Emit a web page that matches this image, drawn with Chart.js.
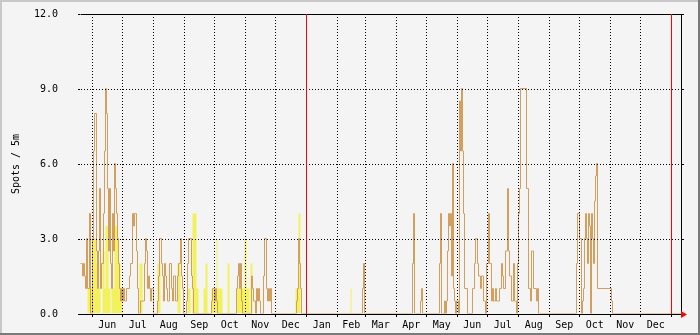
<!DOCTYPE html>
<html><head><meta charset="utf-8">
<style>html,body{margin:0;padding:0;background:#f4f4f4;}canvas{display:block;}</style>
<script src="https://cdn.jsdelivr.net/npm/chart.js@4.4.1/dist/chart.umd.min.js"></script>
</head><body>
<canvas id="c" width="700" height="335" style="width:700px;height:335px"></canvas>
<script>
// x values are days counted from 21 May of the first year
const monthStarts = [11,41,72,103,133,164,194,225,256,284,315,345,376,406,437,468,498,529,559,590];
const monthLabels = ['Jun','Jul','Aug','Sep','Oct','Nov','Dec','Jan','Feb','Mar','Apr','May','Jun','Jul','Aug','Sep','Oct','Nov','Dec'];
const yTicks = [0,3,6,9,12];
const redRuleDays = [225,590];
const xMin = -1.3, xMax = 600.7;

// [day, value] : value holds from that day until the next entry
const orangeSteps = [[0,2],[1,1.5],[2,2],[3,1.5],[4,1],[5,3],[6,1],[8,4],[9,0],[11,3],[12,6.5],[13,8],[15,2.5],[16,1],[17,2.5],[18,5],[19,1],[20,2],[22,4],[23,6.5],[24,9],[25,8],[26,5],[27,2.5],[28,5],[29,2],[30,1],[31,4],[32,2.5],[33,6],[34,5],[35,4],[36,3],[37,2],[38,1],[39,0.5],[40,1],[41,0.5],[42,1],[43,0.5],[45,1],[48,1.5],[49,2],[51,4],[52,3.5],[53,4],[55,2.5],[56,1],[57,0],[59,0.5],[63,2],[64,3],[65,2.5],[66,1],[67,1.5],[68,1],[69,0.5],[70,1],[72,0],
[76,0.5],[77,1.5],[78,3],[80,2],[81,1.5],[82,0.5],[83,2],[84,1.5],[85,1],[86,0.5],[88,2],[90,1],[91,0.5],[92,1.5],[94,0.5],[96,1.5],[97,2],[99,3],[100,1.5],[101,1],[102,0],[105,0.5],[106,2],[107,3],[110,1.5],[111,1],[112,0],
[130,0.5],[131,1],[133,0.5],[134,1],[135,0.5],[136,0],[155,1],[156,1.5],[157,2],[158,1],[159,2],[160,0.5],[161,0],[170,1.5],[171,1],[172,0.5],[174,0],[175,1],[176,0.5],[177,1],[178,0.5],[179,0],[182,1.5],[183,3],[185,1],[186,0.5],[187,1],[188,0.5],[189,1],[190,0],
[215,0.5],[216,1],[217,3],[218,2],[219,1],[220,0],[281,1],[282,2],[283,0],[331,2],[332,4],[333,0],[339,0.5],[340,1],[341,0],[358,2],[359,4],[360,0],[363,0.5],[364,0],[365,0.5],[366,2.5],[367,4],[368,3.5],[369,4],[370,1.5],[371,6],[372,1],[373,0.5],[374,0],[375,0.5],[377,0],[378,8.5],[379,6.5],[380,9],[381,6.5],[382,4],[383,1],[386,0],
[391,1],[393,2],[394,3],[396,2],[397,1.5],[399,1],[400,1.5],[402,0.5],[404,0],[405,2],[407,4],[408,2],[410,0.5],[411,1],[412,0.5],[414,1],[415,0.5],[418,1],[420,2],[421,1.5],[422,1],[424,2.5],[426,5],[427,2.5],[428,1.5],[430,0.5],[432,2],[433,0.5],[435,0],[436,2],[437,4],[438,5],[439,9],[445,5],[447,1],[449,0.5],[450,2.5],[452,1],[455,0.5],[456,1],[457,0],
[495,2],[496,4],[498,3],[500,0],[501,0.5],[502,1],[503,3],[504,4],[505,3],[506,2],[507,4],[508,3.5],[509,0],[510,4],[511,3],[512,2],[513,4.5],[514,5.5],[515,6],[516,1],[530,0.5],[531,0]];

const yellowSteps = [[0,0],[6,1],[11,3],[15,2],[17,1],[19,0],[21,2.5],[23,1],[24,3.5],[27,1],[29,0],[30,1],[33,3.5],[36,3],[37,2],[39,1],[41,0],[58,2],[61,0],[76,2],[79,0],[96,2],[99,0],[106,1],[109,0],[111,4],[115,1],[117,0],[122,1],[124,2],[126,0],[130,1],[135,3],[136,1],[141,0],[146,2],[148,0],[155,1],[163,3],[165,1],[168,0],[169,2],[171,0],[214,1],[217,4],[219,0],[269,1],[270,0]];

function toPoints(steps){
  const pts = steps.map(s => ({x: s[0], y: s[1]}));
  pts.unshift({x: xMin, y: steps[0][1]});
  pts.push({x: xMax, y: steps[steps.length-1][1]});
  return pts;
}

const mono = {family: "'DejaVu Sans Mono', monospace", size: 10};

const framePlugin = {
  id: 'frame',
  beforeDraw(chart){
    const c = chart.ctx; c.save(); c.fillStyle = '#f4f4f4'; c.fillRect(0,0,chart.width,chart.height); c.restore();
  },
  beforeDatasetsDraw(chart){
    chart.ctx.save();
    chart.ctx.translate(0.2, -0.5);
  },
  afterDatasetsDraw(chart){
    chart.ctx.restore();
  },
  afterDraw(chart){
    const c = chart.ctx, a = chart.chartArea, xs = chart.scales.x, ys = chart.scales.y;
    c.save();
    c.lineWidth = 1;
    c.strokeStyle = '#000';
    c.beginPath();
    c.moveTo(a.left + 0.5, a.top + 0.5);
    c.lineTo(a.right - 0.5, a.top + 0.5);
    c.lineTo(a.right - 0.5, a.bottom + 0.5);
    c.stroke();
    c.beginPath(); c.moveTo(a.left, a.bottom + 0.5); c.lineTo(a.right + 2, a.bottom + 0.5); c.stroke();
    yTicks.forEach(v => {
      const py = Math.round(ys.getPixelForValue(v)) + 0.5;
      c.beginPath(); c.moveTo(a.right, py); c.lineTo(a.right + 2, py); c.stroke();
    });
    c.strokeStyle = '#ff0000';
    redRuleDays.forEach(d => {
      const px = Math.floor(xs.getPixelForValue(d)) + 0.5;
      c.beginPath(); c.moveTo(px, a.top); c.lineTo(px, a.bottom); c.stroke();
    });
    c.fillStyle = '#ff0000';
    c.beginPath();
    c.moveTo(a.right - 1, a.bottom - 3);
    c.lineTo(a.right + 5, a.bottom + 0.5);
    c.lineTo(a.right - 1, a.bottom + 4);
    c.closePath(); c.fill();
    c.fillStyle = '#c8c8c8';
    c.fillRect(0,0,chart.width,2); c.fillRect(0,0,2,chart.height);
    c.fillStyle = '#7a7a7a';
    c.fillRect(0,chart.height-2,chart.width,2); c.fillRect(chart.width-2,0,2,chart.height);
    c.restore();
  }
};

function zeroPad(s){ s.paddingTop = 0; s.paddingBottom = 0; s.paddingLeft = 0; s.paddingRight = 0; }

new Chart(document.getElementById('c'), {
  type: 'line',
  data: {
    datasets: [
      {label: 'line', data: toPoints(orangeSteps), stepped: 'before', borderColor: '#d2a05c', borderWidth: 1, pointRadius: 0, fill: false, order: 0},
      {label: 'area', data: toPoints(yellowSteps), stepped: 'before', borderColor: 'rgba(0,0,0,0)', borderWidth: 0, backgroundColor: '#f2f25c', fill: 'origin', pointRadius: 0, order: 1}
    ]
  },
  options: {
    responsive: false, animation: false, devicePixelRatio: 1,
    layout: {padding: {left: 0, top: 14, right: 18, bottom: 0}},
    plugins: {legend: {display: false}, tooltip: {enabled: false}},
    scales: {
      x: {
        type: 'linear', position: 'bottom', min: xMin, max: xMax, weight: 0,
        afterBuildTicks: s => { s.ticks = monthStarts.map(v => ({value: v})); },
        afterFit: s => { s.height = 0; zeroPad(s); },
        ticks: {display: false},
        grid: {color: '#000', lineWidth: 1, drawTicks: true, tickLength: 3, tickColor: '#000', z: 1},
        border: {display: false, dash: [1,2]}
      },
      xl: {
        type: 'linear', axis: 'x', position: 'bottom', min: xMin, max: xMax, weight: 1,
        afterBuildTicks: s => { s.ticks = monthLabels.map((m,i) => ({value: (monthStarts[i] + monthStarts[i+1]) / 2})); },
        afterFit: s => { s.height = 21; zeroPad(s); },
        ticks: {autoSkip: false, maxRotation: 0, minRotation: 0, padding: 5, font: mono, color: '#000', callback: (v,i) => monthLabels[i]},
        grid: {display: false, drawTicks: false},
        border: {display: false}
      },
      y: {
        position: 'left', min: 0, max: 12,
        afterBuildTicks: s => { s.ticks = yTicks.map(v => ({value: v})); },
        afterFit: s => { s.width = 80; zeroPad(s); },
        ticks: {font: mono, color: '#000', padding: 20, callback: v => Number(v).toFixed(1)},
        grid: {color: '#000', tickLength: 2, tickColor: '#000', z: 1},
        border: {color: '#000', dash: [1,2]},
        title: {display: true, text: 'Spots / 5m', font: mono, color: '#000', padding: {top: 10, bottom: 0}}
      }
    }
  },
  plugins: [framePlugin]
});
</script>
</body></html>
